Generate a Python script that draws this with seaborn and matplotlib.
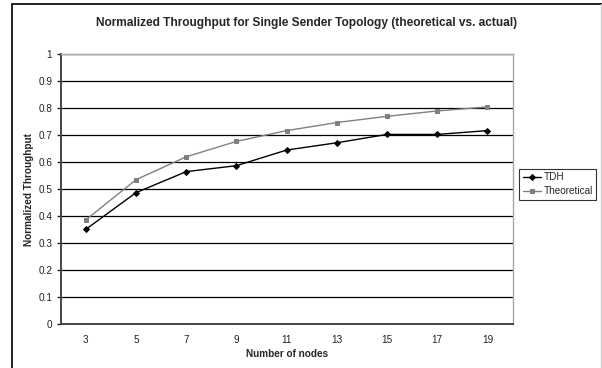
import matplotlib
matplotlib.use("Agg")
import matplotlib.pyplot as plt
from matplotlib.lines import Line2D
from matplotlib.ticker import FixedLocator, FuncFormatter
import seaborn as sns
import pandas as pd

nodes = ["3", "5", "7", "9", "11", "13", "15", "17", "19"]
tdh = [0.351, 0.487, 0.565, 0.587, 0.645, 0.672, 0.703, 0.703, 0.717]
theoretical = [0.386, 0.535, 0.620, 0.677, 0.717, 0.747, 0.770, 0.790, 0.805]
series_names = ["TDH", "Theoretical"]
y_ticks = [0, 0.1, 0.2, 0.3, 0.4, 0.5, 0.6, 0.7, 0.8, 0.9, 1]

df = pd.DataFrame({
    "nodes": nodes * 2,
    "value": tdh + theoretical,
    "series": [series_names[0]] * len(nodes) + [series_names[1]] * len(nodes),
})

sns.set_style("white")
plt.rcParams["font.family"] = ["Liberation Sans", "DejaVu Sans"]

W, H = 602, 368
fig = plt.figure(figsize=(W / 100, H / 100), dpi=100)
ax = fig.add_axes([60.7 / W, 1 - 324 / H, (512.6 - 60.7) / W, (324 - 54.3) / H])

sns.pointplot(data=df, x="nodes", y="value", hue="series", order=nodes,
              hue_order=series_names, palette=["black", "#808080"],
              markers=["D", "s"], linestyles=["-", "-"], errorbar=None,
              linewidth=1, markersize=3.0, ax=ax)

ax.set_xlim(-0.5, len(nodes) - 0.5)
ax.set_ylim(0, 1)
ax.yaxis.set_major_locator(FixedLocator(y_ticks))
ax.yaxis.set_major_formatter(FuncFormatter(lambda v, p: f"{v:g}"))
ax.grid(axis="y", color="black", linewidth=0.9)
ax.grid(axis="x", visible=False)
ax.set_axisbelow(True)

ax.xaxis.set_minor_locator(FixedLocator([i - 0.5 for i in range(len(nodes) + 1)]))
ax.tick_params(axis="x", which="major", length=0, labelsize=7.2, pad=8, colors="#222222")
ax.tick_params(axis="x", which="minor", length=3, width=1, direction="out", color="#333333")
ax.tick_params(axis="y", which="major", length=3, width=1, direction="out", labelsize=7.2,
               pad=3, colors="#222222", left=True)

for s in ["left", "bottom"]:
    ax.spines[s].set_color("#444444")
    ax.spines[s].set_linewidth(1.4)
for s in ["top", "right"]:
    ax.spines[s].set_color("#a8a8a8")
    ax.spines[s].set_linewidth(1.0)
    ax.spines[s].set_visible(True)

ax.set_xlabel("Number of nodes", fontsize=7.2, fontweight="bold", labelpad=3)
ax.set_ylabel("Normalized Throughput", fontsize=7.2, fontweight="bold", labelpad=3)

fig.text(307 / W, 1 - 23 / H, "Normalized Throughput for Single Sender Topology (theoretical vs. actual)",
         ha="center", va="center", fontsize=8.6, fontweight="bold")

leg = ax.legend(loc="upper left", bbox_to_anchor=(519 / W, 1 - 169 / H),
                bbox_transform=fig.transFigure, frameon=True, fontsize=7.2,
                handlelength=1.8, handletextpad=0.3, borderpad=0.35,
                labelspacing=0.35, borderaxespad=0, fancybox=False)
leg.get_frame().set_edgecolor("black")
leg.get_frame().set_linewidth(0.8)

# outer chart border
fig.add_artist(Line2D([11.5 / W, 11.5 / W], [0, 1 - 4 / H], transform=fig.transFigure,
                      color="black", linewidth=1.2))
fig.add_artist(Line2D([11.5 / W, 1], [1 - 4 / H, 1 - 4 / H], transform=fig.transFigure,
                      color="black", linewidth=1.2))
fig.add_artist(Line2D([601 / W, 601 / W], [0, 1 - 4 / H], transform=fig.transFigure,
                      color="#cccccc", linewidth=1.0))

fig.savefig("out.png", dpi=100)
